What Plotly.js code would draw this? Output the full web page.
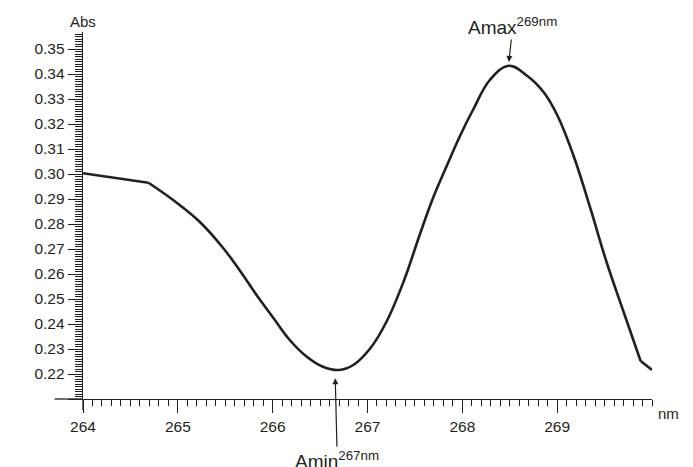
<!DOCTYPE html>
<html>
<head>
<meta charset="utf-8">
<script src="https://cdn.plot.ly/plotly-3.0.1.min.js"></script>
<style>html,body{margin:0;padding:0;background:#fff;}#chart{width:693px;height:467px;}</style>
</head>
<body>
<div id="chart"></div>
<script>
// Wavelength (nm) and absorbance
const wavelength = [264.0, 264.69, 264.95, 265.23, 265.48, 265.65, 265.83, 266.01, 266.18, 266.36, 266.53, 266.70, 266.85, 267.03, 267.20, 267.38, 267.55, 267.69, 267.84, 267.98, 268.12, 268.29, 268.49, 268.68, 268.86, 269.00, 269.17, 269.35, 269.52, 269.70, 269.88, 270.0];
const absorbance = [0.3003, 0.2965, 0.2896, 0.2809, 0.2703, 0.2616, 0.2516, 0.2423, 0.2336, 0.2269, 0.2229, 0.2216, 0.2236, 0.2303, 0.2409, 0.2569, 0.2756, 0.2903, 0.3036, 0.3156, 0.3262, 0.3376, 0.3433, 0.3394, 0.3326, 0.3236, 0.3076, 0.2863, 0.2649, 0.2449, 0.2252, 0.2216];

const yTickVals = [0.21, 0.22, 0.23, 0.24, 0.25, 0.26, 0.27, 0.28, 0.29, 0.30, 0.31, 0.32, 0.33, 0.34, 0.35];
const yTickText = [' ', '0.22', '0.23', '0.24', '0.25', '0.26', '0.27', '0.28', '0.29', '0.30', '0.31', '0.32', '0.33', '0.34', '0.35'];
const xTickVals = [264, 265, 266, 267, 268, 269];
const xTickText = ['264', '265', '266', '267', '268', '269'];

// Marked points
const aMin = {x: 266.66, y: 0.2183, label: 'Amin<sup>267nm</sup>'};
const aMax = {x: 268.49, y: 0.3448, label: 'Amax<sup>269nm</sup>'};

const ink = '#231f20';
const sans = 'Liberation Sans, Arial, sans-serif';
const xRange = [264, 270];
const yRange = [0.21, 0.3568];

const n = wavelength.length;
const lineStyle = {color: ink, width: 2.6};
const traces = [
  {x: wavelength.slice(0, 2), y: absorbance.slice(0, 2), mode: 'lines', line: Object.assign({shape: 'linear'}, lineStyle), hoverinfo: 'skip'},
  {x: wavelength.slice(1, n - 1), y: absorbance.slice(1, n - 1), mode: 'lines', line: Object.assign({shape: 'spline', smoothing: 1.1}, lineStyle), hoverinfo: 'skip'},
  {x: wavelength.slice(n - 2), y: absorbance.slice(n - 2), mode: 'lines', line: Object.assign({shape: 'linear'}, lineStyle), hoverinfo: 'skip'}
];

const layout = {
  width: 693, height: 467,
  margin: {l: 83, r: 41, t: 32, b: 68},
  paper_bgcolor: '#fff', plot_bgcolor: '#fff',
  showlegend: false,
  xaxis: {
    range: xRange, showgrid: false, zeroline: false,
    showline: true, linecolor: ink, linewidth: 1.3,
    tickmode: 'array', tickvals: xTickVals, ticktext: xTickText,
    ticks: 'outside', ticklen: 13, tickwidth: 1, tickcolor: ink,
    tickfont: {family: sans, size: 15.5, color: ink},
    minor: {dtick: 0.1, tick0: 264, ticklen: 6, tickwidth: 1, tickcolor: ink, ticks: 'outside', showgrid: false},
    anchor: 'y'
  },
  xaxis2: {
    range: xRange, overlaying: 'x', anchor: 'y', side: 'bottom', showgrid: false, zeroline: false,
    showline: false, tickmode: 'linear', tick0: 264, dtick: 0.5, ticks: 'outside', ticklen: 8, tickwidth: 1, tickcolor: ink,
    showticklabels: false
  },
  yaxis: {
    range: yRange, showgrid: false, zeroline: false,
    showline: true, linecolor: ink, linewidth: 1.3,
    tickmode: 'array', tickvals: yTickVals, ticktext: yTickText,
    ticks: 'outside', ticklen: 14, tickwidth: 1, tickcolor: ink,
    tickfont: {family: sans, size: 15.5, color: ink},
    minor: {dtick: 0.001, tick0: 0.21, ticklen: 7, tickwidth: 1, tickcolor: ink, ticks: 'outside', showgrid: false},
    anchor: 'x'
  },
  yaxis2: {
    range: yRange, overlaying: 'y', anchor: 'x', side: 'left', showgrid: false, zeroline: false,
    showline: false, tickmode: 'linear', tick0: 0.21, dtick: 0.005, ticks: 'outside', ticklen: 10, tickwidth: 1, tickcolor: ink,
    showticklabels: false
  },
  shapes: [
    {type: 'line', xref: 'paper', yref: 'paper', x0: -0.05, x1: 0, y0: 0, y1: 0, line: {color: ink, width: 1.3}},
    {type: 'line', xref: 'paper', yref: 'paper', x0: 0, x1: 0, y0: -0.03, y1: 0, line: {color: ink, width: 1.3}}
  ],
  annotations: [
    {xref: 'paper', yref: 'paper', x: 0, y: 1, xanchor: 'center', yanchor: 'bottom', yshift: 0, text: 'Abs', showarrow: false, font: {family: sans, size: 15, color: ink}},
    {xref: 'paper', yref: 'paper', x: 1, y: 0, xanchor: 'left', yanchor: 'middle', xshift: 4, yshift: -14, text: 'nm', showarrow: false, font: {family: sans, size: 15, color: ink}},
    {x: aMax.x, y: aMax.y, xref: 'x', yref: 'y', text: aMax.label, showarrow: true, ax: 4, ay: -36, arrowhead: 2, arrowsize: 1, arrowwidth: 1.2, arrowcolor: ink, standoff: 0, font: {family: sans, size: 19, color: ink}},
    {x: aMin.x, y: aMin.y, xref: 'x', yref: 'y', text: aMin.label, showarrow: true, ax: 2, ay: 82, arrowhead: 2, arrowsize: 1, arrowwidth: 1.2, arrowcolor: ink, standoff: 0, font: {family: sans, size: 19, color: ink}}
  ]
};

Plotly.newPlot('chart', traces, layout, {staticPlot: true, displayModeBar: false});
</script>
</body>
</html>
